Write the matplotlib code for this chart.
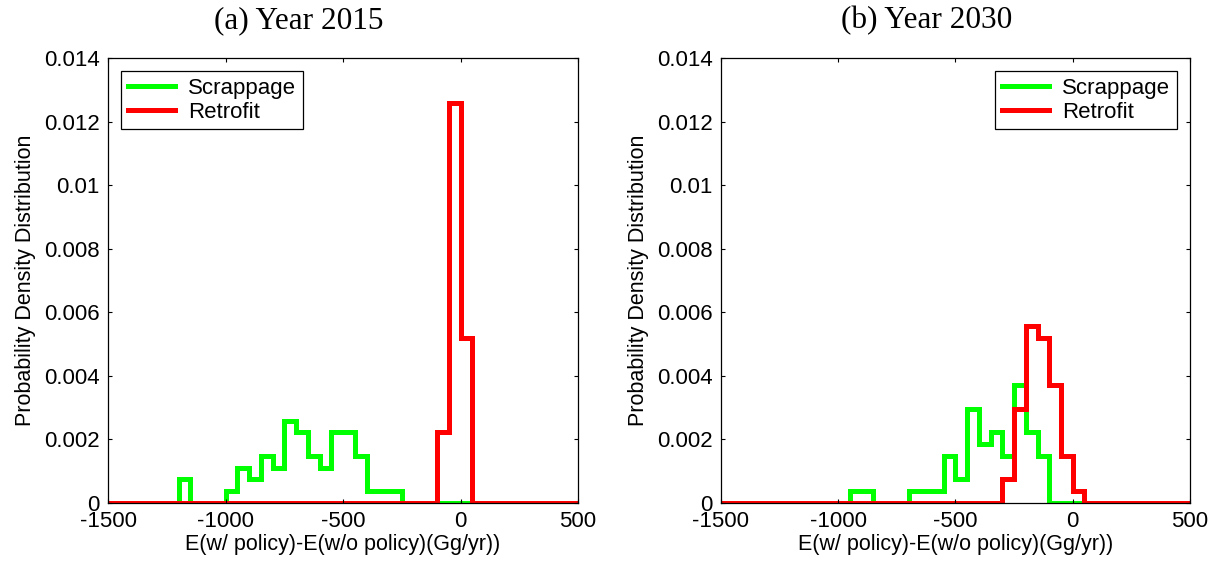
import numpy as np
import matplotlib
matplotlib.use("Agg")
import matplotlib.pyplot as plt
from matplotlib.ticker import FuncFormatter

# histogram bins: 50 Gg/yr wide, -1500 .. 500
bin_edges = np.arange(-1500, 501, 50)

# probability density per bin
scrap_2015 = [0, 0, 0, 0, 0, 0, 0.00074, 0, 0, 0,
              0.00037, 0.00111, 0.00074, 0.00148, 0.00111, 0.00259, 0.00222, 0.00148, 0.00111, 0.00222,
              0.00222, 0.00148, 0.00037, 0.00037, 0.00037, 0, 0, 0, 0, 0,
              0, 0, 0, 0, 0, 0, 0, 0, 0, 0]
retro_2015 = [0, 0, 0, 0, 0, 0, 0, 0, 0, 0,
              0, 0, 0, 0, 0, 0, 0, 0, 0, 0,
              0, 0, 0, 0, 0, 0, 0, 0, 0.00222, 0.01259,
              0.00519, 0, 0, 0, 0, 0, 0, 0, 0, 0]
scrap_2030 = [0, 0, 0, 0, 0, 0, 0, 0, 0, 0,
              0, 0.00037, 0.00037, 0, 0, 0, 0.00037, 0.00037, 0.00037, 0.00148,
              0.00074, 0.00296, 0.00185, 0.00222, 0.00148, 0.0037, 0.00222, 0.00148, 0, 0,
              0, 0, 0, 0, 0, 0, 0, 0, 0, 0]
retro_2030 = [0, 0, 0, 0, 0, 0, 0, 0, 0, 0,
              0, 0, 0, 0, 0, 0, 0, 0, 0, 0,
              0, 0, 0, 0, 0.00074, 0.00296, 0.00556, 0.00519, 0.0037, 0.00148,
              0.00037, 0, 0, 0, 0, 0, 0, 0, 0, 0]

panels = [
    ("(a) Year 2015", scrap_2015, retro_2015, "upper left"),
    ("(b) Year 2030", scrap_2030, retro_2030, "upper right"),
]

x_ticks = [-1500, -1000, -500, 0, 500]
y_ticks = [0, 0.002, 0.004, 0.006, 0.008, 0.01, 0.012, 0.014]

plt.rcParams['font.family'] = ['Liberation Sans', 'DejaVu Sans']
plt.rcParams['axes.unicode_minus'] = False

fig = plt.figure(figsize=(12.22, 5.65), dpi=100)
axes_pos = [[0.0884, 0.1097, 0.3846, 0.7876], [0.590, 0.1097, 0.3838, 0.7876]]
title_x = [299 / 1222, 927 / 1222]  # titles sit left of the axes centre

for pos, tx, (title, scrap, retro, loc) in zip(axes_pos, title_x, panels):
    ax = fig.add_axes(pos)
    ax.stairs(scrap, bin_edges, baseline=None, color=(0, 1, 0), linewidth=3.6, label="Scrappage")
    ax.stairs(retro, bin_edges, baseline=None, color=(1, 0, 0), linewidth=3.6, label="Retrofit")
    ax.set_xlim(-1500, 500)
    ax.set_ylim(0, 0.014)
    ax.set_xticks(x_ticks)
    ax.set_yticks(y_ticks)
    ax.yaxis.set_major_formatter(FuncFormatter(lambda v, p: "%g" % v))
    ax.tick_params(direction="in", top=True, right=True, length=3, width=0.8,
                   labelsize=16, pad=6)
    for sp in ax.spines.values():
        sp.set_linewidth(0.9)
    ax.set_xlabel("E(w/ policy)-E(w/o policy)(Gg/yr))", fontsize=15.5, labelpad=1)
    ax.set_ylabel("Probability Density Distribution", fontsize=15.5, labelpad=6)
    fig.text(tx, 1 - 28 / 565, title, fontsize=22.5, family="Liberation Serif",
             ha="center", va="baseline")
    leg = ax.legend(loc=loc, fontsize=16, frameon=True, fancybox=False,
                    edgecolor="black", framealpha=1, handlelength=2.1,
                    handletextpad=0.6, labelspacing=0.12, borderpad=0.3,
                    borderaxespad=0.6)
    leg.get_frame().set_linewidth(0.9)

fig.savefig("out.png", dpi=100)
